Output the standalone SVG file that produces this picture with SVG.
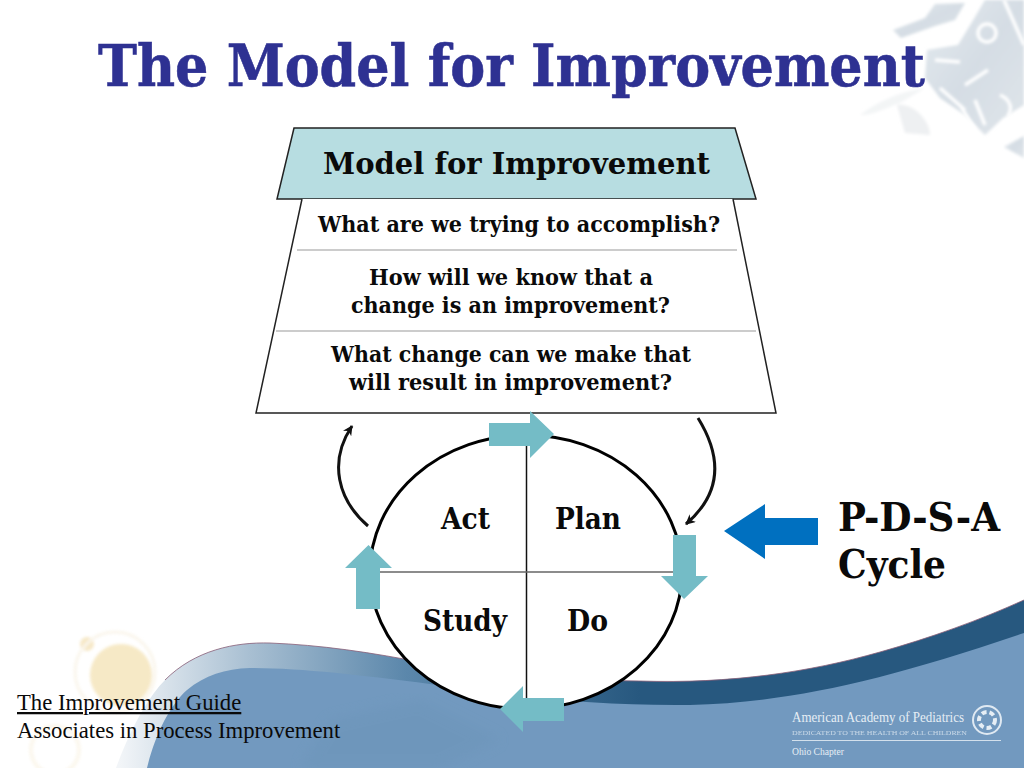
<svg xmlns="http://www.w3.org/2000/svg" width="1024" height="768" viewBox="0 0 1024 768">
<style>
text{font-family:"Liberation Serif","Times New Roman",serif;fill:#0a0a0a}
.b{font-family:"DejaVu Serif","Liberation Serif",serif;font-weight:bold}
.title{font-size:58px;fill:#2e3192;stroke:#2e3192;stroke-width:.6px}
.q{font-size:22px}
.c{font-size:29px}
.big{font-size:40px}
.foot{font-size:22.700px}
.logo{fill:#e6eef5;font-size:14px}
.arrow{fill:#74bcc6}
.curve{fill:none;stroke:#111;stroke-width:3}
</style>
<defs>
<linearGradient id="wave" gradientUnits="userSpaceOnUse" x1="120" y1="0" x2="640" y2="0">
<stop offset="0" stop-color="#f2f5f8"/><stop offset=".25" stop-color="#a8bfd2"/><stop offset=".55" stop-color="#5b87ab"/><stop offset="1" stop-color="#27587f"/>
</linearGradient>
<linearGradient id="deco" x1="0" y1="0" x2="1" y2="1">
<stop offset="0" stop-color="#e4eaef"/><stop offset=".5" stop-color="#d5dde4"/><stop offset="1" stop-color="#dfe5ea"/>
</linearGradient>
<marker id="ah" markerWidth="12" markerHeight="12" refX="9" refY="5" orient="auto" markerUnits="userSpaceOnUse"><path d="M0 0L10 5L0 10L3 5Z" fill="#111"/></marker>
<filter id="soft"><feGaussianBlur stdDeviation="1.500"/></filter>
<filter id="soft2"><feGaussianBlur stdDeviation="6"/></filter>
</defs>
<rect width="1024" height="768" fill="#fff"/>
<g id="background">
<g filter="url(#soft)" fill="url(#deco)">
<path d="M893 30L925 18L935 4L965 3L955 20L935 26L901 38Z"/>
<path d="M927 50L958 45L972 22L985 0H1024V105L1003 118L985 135L965 115L940 98L925 78Z"/>
<path d="M1004 147L1024 136V158Z"/>
</g>
<g filter="url(#soft)">
<path d="M897 105C915 103 930 122 930 135L905 133Z" fill="#eef0f2"/>
<path d="M860 115C880 100 900 92 925 88L900 103C885 108 872 116 860 115Z" fill="#f3f5f6"/>
</g>
<g fill="none" stroke="#fff" stroke-width="3.500" filter="url(#soft)">
<circle cx="987" cy="33" r="9"/>
<path d="M1004 0L1024 45M935 60L960 62M965 85L988 70M960 105L975 130M1000 95C1012 100 1012 110 1008 116M940 88L965 110M975 100L985 125"/>
</g>
<g filter="url(#soft)" opacity=".7">
<circle cx="121" cy="675" r="31" fill="#f3e0ae"/>
<circle cx="87" cy="644" r="7" fill="#f3dfb0"/>
<circle cx="115" cy="672" r="40" fill="none" stroke="#f8f2e4" stroke-width="3"/>
<circle cx="55" cy="750" r="24" fill="none" stroke="#faf4e6" stroke-width="4"/>
</g>
<path d="M116 768C132 725 150 695 165 680C195 650 235 642 270 643C320 645 370 652 430 664C510 678 570 680 640 681C730 684 810 672 880 652C930 638 980 620 1024 600V768Z" fill="url(#wave)"/>
<path d="M165 680C195 650 235 642 270 643C320 645 370 652 430 664C510 678 570 680 640 681C730 684 810 672 880 652C930 638 980 620 1024 600" fill="none" stroke="#8a5f78" stroke-width="1" opacity=".8"/>
<path d="M147 768C155 735 170 705 187 690C205 675 225 669 250 668C300 668 360 675 430 684C520 698 600 706 690 705C790 702 880 682 1024 633V768Z" fill="#7299bf"/>
<path d="M300 768L330 720L420 700L500 740L440 768Z" fill="#6d95ba" opacity=".6" filter="url(#soft2)"/>
<g id="logo">
<text class="logo" x="792" y="722" textLength="172" lengthAdjust="spacingAndGlyphs">American Academy of Pediatrics</text>
<text class="logo" x="792" y="735" textLength="175" lengthAdjust="spacingAndGlyphs" style="font-size:7px;opacity:.75">DEDICATED TO THE HEALTH OF ALL CHILDREN</text>
<line x1="792" y1="740.500" x2="1001" y2="740.500" stroke="#d3e0ec" stroke-width="1"/>
<text class="logo" x="792" y="755" textLength="52" lengthAdjust="spacingAndGlyphs" style="font-size:11px">Ohio Chapter</text>
<circle cx="987" cy="720" r="14" fill="none" stroke="#dfe9f2" stroke-width="2"/>
<circle cx="987" cy="720" r="8" fill="none" stroke="#e6eef5" stroke-width="4" stroke-dasharray="5 3"/>
</g>
</g>
<text id="title" class="title b" x="98" y="86" textLength="827" lengthAdjust="spacingAndGlyphs">The Model for Improvement</text>
<g id="model-header">
<path d="M294 128H735L756 199H277Z" fill="#b7dde1" stroke="#222" stroke-width="1.500"/>
<text class="c b" x="323" y="174" textLength="387" lengthAdjust="spacingAndGlyphs">Model for Improvement</text>
</g>
<g id="model-questions">
<path d="M302 199L256 413H776L733 199" fill="#fff" stroke="#222" stroke-width="1.500"/>
<line x1="297" y1="250" x2="737" y2="250" stroke="#999" stroke-width="1.200"/>
<line x1="276" y1="331" x2="756" y2="331" stroke="#999" stroke-width="1.200"/>
<text class="q b" x="318" y="232" textLength="402" lengthAdjust="spacingAndGlyphs">What are we trying to accomplish?</text>
<text class="q b" x="369" y="285" textLength="284" lengthAdjust="spacingAndGlyphs">How will we know that a</text>
<text class="q b" x="351" y="313" textLength="319" lengthAdjust="spacingAndGlyphs">change is an improvement?</text>
<text class="q b" x="331" y="362" textLength="360" lengthAdjust="spacingAndGlyphs">What change can we make that</text>
<text class="q b" x="349" y="390" textLength="323" lengthAdjust="spacingAndGlyphs">will result in improvement?</text>
</g>
<g id="pdsa-circle">
<ellipse cx="526" cy="572" rx="156" ry="137" fill="#fff" stroke="#000" stroke-width="3"/>
<line x1="526.500" y1="445" x2="526.500" y2="698" stroke="#111" stroke-width="1.500"/>
<line x1="380" y1="572" x2="674" y2="572" stroke="#666" stroke-width="1.500"/>
</g>
<g id="label-act"><text class="c b" x="441" y="529" textLength="49" lengthAdjust="spacingAndGlyphs">Act</text></g>
<g id="label-plan"><text class="c b" x="555" y="529" textLength="66" lengthAdjust="spacingAndGlyphs">Plan</text></g>
<g id="label-study"><text class="c b" x="423" y="631" textLength="84" lengthAdjust="spacingAndGlyphs">Study</text></g>
<g id="label-do"><text class="c b" x="567" y="631" textLength="41" lengthAdjust="spacingAndGlyphs">Do</text></g>
<g id="connectors">
<path class="arrow" d="M489 423H530V411L554 434L530 458V446H489Z"/>
<path class="arrow" d="M673 535H696V576H708L684 599L661 576H673Z"/>
<path class="arrow" d="M564 698H523V686L500 709L523 732V721H564Z"/>
<path class="arrow" d="M356 609H380V568H392L368.500 545L345 568H356Z"/>
<path class="curve" d="M368 526C338 500 328 462 352 426" marker-end="url(#ah)"/>
<path class="curve" d="M698 418C724 460 720 495 686 524" marker-end="url(#ah)"/>
<path d="M818 518H765V504L724 531L765 559V545H818Z" fill="#0070c0"/>
</g>
<g id="pdsa-label">
<text class="big b" x="838" y="531" textLength="162" lengthAdjust="spacingAndGlyphs">P-D-S-A</text>
<text class="big b" x="838" y="578" textLength="108" lengthAdjust="spacingAndGlyphs">Cycle</text>
</g>
<g id="footer">
<text class="foot" x="17" y="710" text-decoration="underline">The Improvement Guide</text>
<text class="foot" x="17" y="738">Associates in Process Improvement</text>
</g>
</svg>
